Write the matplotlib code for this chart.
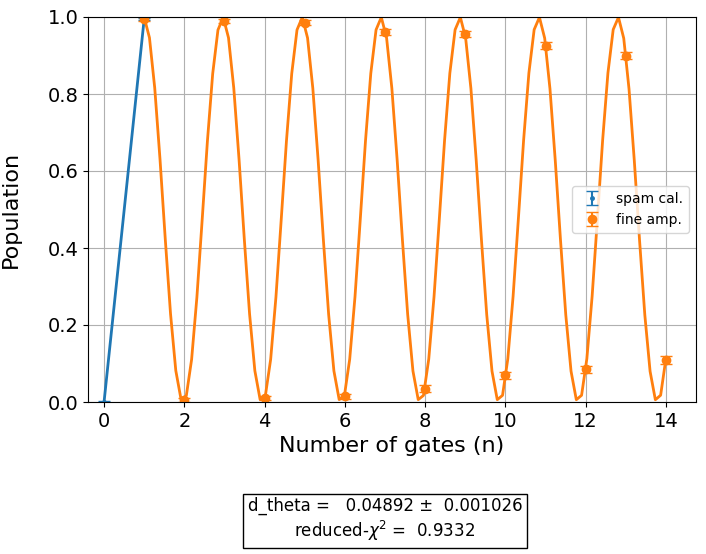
import numpy as np
import matplotlib
matplotlib.use("Agg")
import matplotlib.pyplot as plt

spam_x = [0, 1]
spam_y = [0.0, 0.995]
spam_err = [0.003, 0.003]

fine_x = list(range(1, 15))
fine_y = [0.995, 0.005, 0.99, 0.01, 0.985, 0.015, 0.96, 0.035, 0.955, 0.07, 0.925, 0.085, 0.9, 0.11]
fine_err = [0.006, 0.005, 0.006, 0.006, 0.006, 0.006, 0.008, 0.008, 0.008, 0.009, 0.009, 0.009, 0.01, 0.01]

d_theta = 0.04892
d_theta_err = 0.001026
chi2 = 0.9332

fig = plt.figure(figsize=(7.06, 5.54), dpi=100)
ax = fig.add_axes([88/706, 1-402/554, 608/706, 385/554])

ax.errorbar(spam_x, spam_y, yerr=spam_err, fmt='.', color='#1f77b4', capsize=4, markersize=5, label='spam cal.')
ax.plot(spam_x, spam_y, color='#1f77b4', lw=2)

ax.errorbar(fine_x, fine_y, yerr=fine_err, fmt='o', color='#ff7f0e', capsize=4, markersize=6, label='fine amp.')
xs = np.linspace(1, 14, 100)
ax.plot(xs, 0.5 - 0.5*np.cos((np.pi + d_theta)*xs), color='#ff7f0e', lw=2)

ax.set_xlim(-0.4, 14.75)
ax.set_ylim(0, 1)
ax.set_xticks([0, 2, 4, 6, 8, 10, 12, 14])
ax.grid(True)
ax.tick_params(labelsize=14)
ax.set_xlabel('Number of gates (n)', fontsize=16)
ax.set_ylabel('Population', fontsize=16, labelpad=10)
ax.yaxis.set_label_coords(-0.11, 0.5)
ax.legend(loc='center right', fontsize=10)

fig.text(385/706, 1-520/554,
         "d_theta =   %.5f \u00b1  %.6f\nreduced-$\\chi^2$ =  %.4f" % (d_theta, d_theta_err, chi2),
         ha='center', va='center', fontsize=12,
         bbox=dict(facecolor='white', edgecolor='black', boxstyle='square,pad=0.3'))

fig.savefig('out.png', dpi=100)
